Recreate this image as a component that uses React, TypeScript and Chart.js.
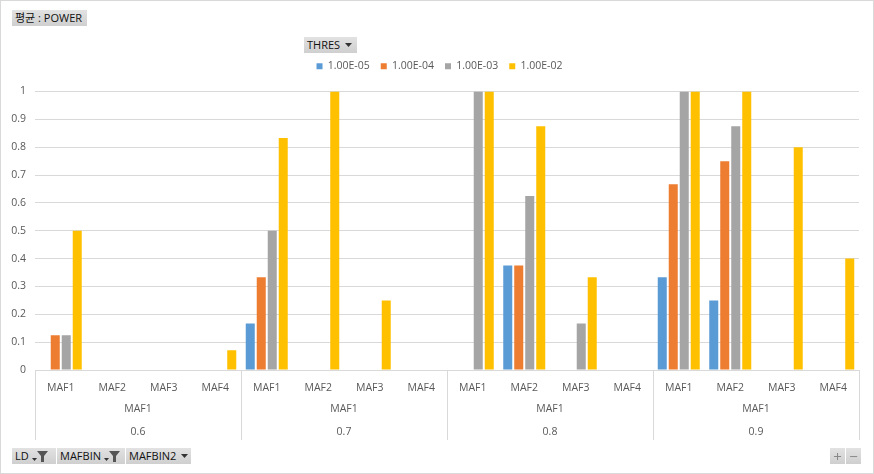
import React, { useEffect, useRef } from "react";
import { Chart, registerables } from "chart.js";

Chart.register(...registerables);

const mafLabels = ["MAF1", "MAF2", "MAF3", "MAF4"];
const mafbinLabel = "MAF1";
const ldLabels = ["0.6", "0.7", "0.8", "0.9"];
const seriesNames = ["1.00E-05", "1.00E-04", "1.00E-03", "1.00E-02"];
const seriesColors = ["#5B9BD5", "#ED7D31", "#A5A5A5", "#FFC000"];

const thres1e5 = [null, null, null, null, 0.167, null, null, null, null, 0.375, null, null, 0.333, 0.25, null, null];
const thres1e4 = [0.125, null, null, null, 0.333, null, null, null, null, 0.375, null, null, 0.667, 0.75, null, null];
const thres1e3 = [0.125, null, null, null, 0.5, null, null, null, 1, 0.625, 0.167, null, 1, 0.875, null, null];
const thres1e2 = [0.5, null, null, 0.071, 0.833, 1, 0.25, null, 1, 0.875, 0.333, null, 1, 1, 0.8, 0.4];

const seriesValues = [thres1e5, thres1e4, thres1e3, thres1e2];

const FONT = "'Open Sans', 'Noto Sans CJK KR', sans-serif";
const TEXT = "#595959";
const GRID = "#d9d9d9";

const groupPlugin = {
  id: "groupLabels",
  beforeInit(chart: any) {
    const lg = chart.legend;
    if (lg) {
      const orig = lg.fit.bind(lg);
      lg.fit = function () {
        orig();
        this.height = 41.5;
      };
    }
  },
  afterLayout(chart: any) {
    const lg = chart.legend;
    if (lg) {
      lg.left += 10;
      lg.right += 10;
    }
  },
  afterDraw(chart: any) {
    const ctx = chart.ctx;
    const xs = chart.scales.x;
    const area = chart.chartArea;
    const n = xs.ticks.length;
    const w = (area.right - area.left) / n;
    const per = mafLabels.length;
    const groups = ldLabels.length;
    ctx.save();
    ctx.strokeStyle = GRID;
    ctx.lineWidth = 1;
    for (let g = 0; g <= groups; g++) {
      const x = Math.round(area.left + g * per * w) + 0.5;
      ctx.beginPath();
      ctx.moveTo(x, area.bottom);
      ctx.lineTo(x, area.bottom + 70);
      ctx.stroke();
    }
    ctx.fillStyle = TEXT;
    ctx.font = `10.5px ${FONT}`;
    ctx.textAlign = "center";
    ctx.textBaseline = "middle";
    for (let g = 0; g < groups; g++) {
      const cx = area.left + (g * per + per / 2) * w;
      ctx.fillText(mafbinLabel, cx, area.bottom + 39);
      ctx.fillText(ldLabels[g], cx, area.bottom + 62);
    }
    ctx.restore();
  },
};

const btn: React.CSSProperties = {
  position: "absolute",
  height: 16,
  background: "linear-gradient(#e2e2e2, #cfcfcf)",
  color: "#111",
  fontFamily: FONT,
  fontSize: 11,
  lineHeight: "16px",
  boxSizing: "border-box",
  padding: "0 3px",
  whiteSpace: "nowrap",
  display: "flex",
  alignItems: "center",
};

const Tri = () => (
  <svg width="7" height="4" style={{ marginLeft: 5 }}>
    <polygon points="0,0 7,0 3.5,4" fill="#333" />
  </svg>
);

const Funnel = () => (
  <svg width="18" height="14" style={{ marginLeft: 2 }}>
    <polygon points="1,9 6,9 3.5,12" fill="#333" />
    <polygon points="6,2 17,2 13,7 13,13 10,13 10,7" fill="#555" />
  </svg>
);

export default function App() {
  const ref = useRef<HTMLCanvasElement>(null);
  useEffect(() => {
    const labels: string[] = [];
    ldLabels.forEach(() => mafLabels.forEach((m) => labels.push(m)));
    const chart = new Chart(ref.current as HTMLCanvasElement, {
      type: "bar",
      data: {
        labels,
        datasets: seriesNames.map((name, i) => ({
          label: name,
          data: seriesValues[i] as any,
          backgroundColor: seriesColors[i],
          borderWidth: 0,
          categoryPercentage: 0.854,
          barPercentage: 0.82,
        })),
      },
      options: {
        animation: false,
        responsive: false,
        maintainAspectRatio: false,
        layout: { padding: { top: 50, right: 15, left: 0, bottom: 0 } },
        plugins: {
          legend: {
            display: true,
            position: "top",
            labels: {
              boxWidth: 6,
              boxHeight: 6,
              padding: 11,
              color: TEXT,
              font: { family: FONT, size: 10.5 },
            },
          },
          tooltip: { enabled: false },
        },
        scales: {
          x: {
            grid: { display: false },
            border: { display: false },
            ticks: { color: TEXT, font: { family: FONT, size: 10.5 }, padding: 4, maxRotation: 0, autoSkip: false },
            afterFit(scale: any) {
              scale.height = 104;
            },
          },
          y: {
            min: 0,
            max: 1,
            ticks: {
              stepSize: 0.1,
              color: TEXT,
              font: { family: FONT, size: 10.5 },
              padding: 9,
              callback: (v: any) => String(Number(Number(v).toFixed(1))),
            },
            grid: { color: GRID, drawTicks: false },
            border: { display: false },
            afterFit(scale: any) {
              scale.width = 35;
            },
          },
        },
      },
      plugins: [groupPlugin],
    });
    return () => chart.destroy();
  }, []);

  return (
    <div style={{ position: "fixed", left: 0, top: 0, width: 874, height: 474, background: "#fff" }}>
      <canvas ref={ref} width={874} height={474} style={{ position: "absolute", left: 0, top: 0 }} />
      <div style={{ position: "absolute", left: 0, top: 0, width: 874, height: 474, boxSizing: "border-box", border: "1px solid #d9d9d9", pointerEvents: "none" }} />
      <div style={{ ...btn, left: 12, top: 10, width: 75 }}>평균 : POWER</div>
      <div style={{ ...btn, left: 304, top: 37, width: 53 }}>THRES<Tri /></div>
      <div style={{ ...btn, left: 12, top: 448, width: 44 }}>LD<Funnel /></div>
      <div style={{ ...btn, left: 57, top: 448, width: 68 }}>MAFBIN<Funnel /></div>
      <div style={{ ...btn, left: 126, top: 448, width: 65 }}>MAFBIN2<Tri /></div>
      <div style={{ ...btn, left: 830, top: 448, width: 15, justifyContent: "center", padding: 0, fontSize: 15, color: "#888" }}>+</div>
      <div style={{ ...btn, left: 846, top: 448, width: 15, justifyContent: "center", padding: 0, fontSize: 15, color: "#888" }}>−</div>
    </div>
  );
}
